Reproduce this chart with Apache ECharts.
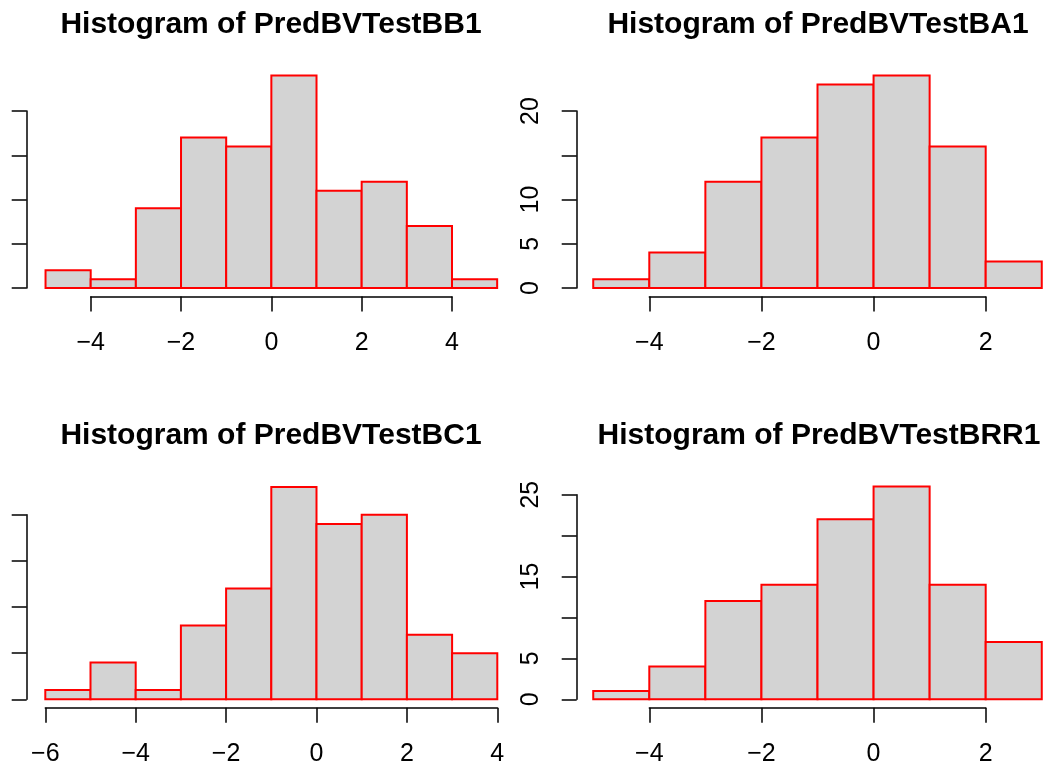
<!DOCTYPE html>
<html>
<head>
<meta charset="utf-8">
<script src="https://cdn.jsdelivr.net/npm/echarts@6/dist/echarts.min.js"></script>
<style>
html,body{margin:0;padding:0;background:#fff;}
#c{width:1047px;height:769px;}
</style>
</head>
<body>
<div id="c"></div>
<script>
// ---- data (histogram breaks and counts) ----
const titles = ['Histogram of PredBVTestBB1', 'Histogram of PredBVTestBA1', 'Histogram of PredBVTestBC1', 'Histogram of PredBVTestBRR1'];
const breaksBB1 = [-5, -4, -3, -2, -1, 0, 1, 2, 3, 4, 5];
const countsBB1 = [2, 1, 9, 17, 16, 24, 11, 12, 7, 1];
const breaksBA1 = [-5, -4, -3, -2, -1, 0, 1, 2, 3];
const countsBA1 = [1, 4, 12, 17, 23, 24, 16, 3];
const breaksBC1 = [-6, -5, -4, -3, -2, -1, 0, 1, 2, 3, 4];
const countsBC1 = [1, 4, 1, 8, 12, 23, 19, 20, 7, 5];
const breaksBRR1 = [-5, -4, -3, -2, -1, 0, 1, 2, 3];
const countsBRR1 = [1, 4, 12, 14, 22, 26, 14, 7];
// tick ranges (R draws axes only across the ticks)
const xTicksBB1 = [-4, 4], xTicksBA1 = [-4, 2], xTicksBC1 = [-6, 4], xTicksBRR1 = [-4, 2];
const yTicksBB1 = [0, 20], yTicksBA1 = [0, 20], yTicksBC1 = [0, 20], yTicksBRR1 = [0, 25];
// y tick labels that R shows (others dropped for overlap / off-canvas)
const yLabelsBB1 = [], yLabelsBA1 = [0, 5, 10, 20], yLabelsBC1 = [], yLabelsBRR1 = [0, 5, 15, 25];

const panels = [
  {breaks: breaksBB1, counts: countsBB1, xt: xTicksBB1, yt: yTicksBB1, yl: yLabelsBB1},
  {breaks: breaksBA1, counts: countsBA1, xt: xTicksBA1, yt: yTicksBA1, yl: yLabelsBA1},
  {breaks: breaksBC1, counts: countsBC1, xt: xTicksBC1, yt: yTicksBC1, yl: yLabelsBC1},
  {breaks: breaksBRR1, counts: countsBRR1, xt: xTicksBRR1, yt: yTicksBRR1, yl: yLabelsBRR1}
];

// ---- layout (pixel geometry) ----
const layout = [
  {left: 90.7, width: 361.3, top: 111, height: 177, yOff: 64, xOff: 8.5, tx: 271, ty: 10},
  {left: 649.3, width: 336.4, top: 111, height: 177, yOff: 72.6, xOff: 8.5, tx: 818, ty: 10},
  {left: 45.3, width: 452, top: 514.7, height: 184.6, yOff: 18.6, xOff: 8.5, tx: 271, ty: 420.5},
  {left: 649.3, width: 336.4, top: 494.7, height: 204.6, yOff: 72.6, xOff: 8.5, tx: 819, ty: 420.5}
];

const FONT = 'Liberation Sans';
const fmtNum = v => String(v).replace('-', '\u2212');

const option = {
  animation: false,
  backgroundColor: '#ffffff',
  title: titles.map((t, i) => ({
    text: t, left: layout[i].tx, top: layout[i].ty, textAlign: 'center', padding: 0,
    textStyle: {fontFamily: FONT, fontWeight: 'bold', fontSize: 30, color: '#000'}
  })),
  grid: layout.map(l => ({left: l.left, top: l.top, width: l.width, height: l.height, containLabel: false})),
  xAxis: panels.map((p, i) => ({
    type: 'value', gridIndex: i, min: p.xt[0], max: p.xt[1], interval: 2,
    position: 'bottom', offset: layout[i].xOff,
    axisLine: {show: true, onZero: false, lineStyle: {color: '#000', width: 1.5}},
    axisTick: {show: true, length: 15, lineStyle: {color: '#000', width: 1.5}},
    axisLabel: {show: true, margin: 34, fontFamily: FONT, fontSize: 25, color: '#000', formatter: fmtNum},
    splitLine: {show: false}
  })),
  yAxis: panels.map((p, i) => ({
    type: 'value', gridIndex: i, min: p.yt[0], max: p.yt[1], interval: 5,
    position: 'left', offset: layout[i].yOff,
    axisLine: {show: true, onZero: false, lineStyle: {color: '#000', width: 1.5}},
    axisTick: {show: true, length: 15, lineStyle: {color: '#000', width: 1.5}},
    axisLabel: {
      show: p.yl.length > 0, rotate: 90, margin: 33, fontFamily: FONT, fontSize: 25, color: '#000',
      formatter: v => (p.yl.indexOf(v) >= 0 ? fmtNum(v) : '')
    },
    splitLine: {show: false}
  })),
  series: panels.map((p, i) => ({
    type: 'custom', xAxisIndex: i, yAxisIndex: i, clip: false,
    data: p.counts.map((c, k) => [p.breaks[k], p.breaks[k + 1], c]),
    encode: {x: [0, 1], y: 2},
    renderItem: function (params, api) {
      const a = api.coord([api.value(0), api.value(2)]);
      const b = api.coord([api.value(1), 0]);
      return {
        type: 'rect',
        shape: {x: a[0], y: a[1], width: b[0] - a[0], height: b[1] - a[1]},
        style: {fill: '#d3d3d3', stroke: '#ff0000', lineWidth: 2}
      };
    }
  }))
};

const chart = echarts.init(document.getElementById('c'), null, {renderer: 'canvas'});
chart.setOption(option);
</script>
</body>
</html>
